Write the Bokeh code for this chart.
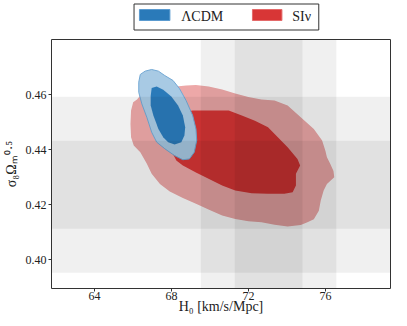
from bokeh.plotting import figure
from bokeh.layouts import column
from bokeh.models import BoxAnnotation, FixedTicker, PrintfTickFormatter, Range1d
from bokeh.core.properties import value
from bokeh.embed import file_html
from bokeh.resources import INLINE

# ---- data ----
x_ticks = [64, 68, 72, 76]
y_ticks = [0.40, 0.42, 0.44, 0.46]
legend_labels = ["ΛCDM", "SIν"]

# external priors (bands)
h0_mean, h0_sigma = 73.04, 1.76
s8_mean, s8_sigma = 0.4272, 0.016

# LCDM 95% contour
lcdm_95_h0 = [66.38, 66.63, 66.97, 67.32, 67.65, 68.08, 68.42, 68.76, 69.10, 69.27, 69.31,
              69.18, 68.93, 68.59, 68.16, 67.65, 67.23, 66.97, 66.72, 66.46, 66.30, 66.30]
lcdm_95_s8 = [0.4673, 0.4685, 0.4691, 0.4685, 0.4669, 0.4651, 0.4621, 0.4578, 0.4524, 0.4475, 0.4433,
              0.4390, 0.4366, 0.4363, 0.4378, 0.4403, 0.4427, 0.4463, 0.4517, 0.4566, 0.4608, 0.4645]
# LCDM 68% contour
lcdm_68_h0 = [66.92, 66.97, 67.23, 67.57, 67.99, 68.34, 68.59, 68.71, 68.67, 68.51, 68.16,
              67.83, 67.57, 67.32, 67.06, 66.92]
lcdm_68_s8 = [0.4596, 0.4624, 0.4629, 0.4617, 0.4593, 0.4560, 0.4524, 0.4481, 0.4451, 0.4427, 0.4418,
              0.4427, 0.4445, 0.4475, 0.4524, 0.4560]
# SInu 95% contour
sinu_95_h0 = [66.46, 67.23, 67.99, 68.76, 69.27, 69.93, 70.63, 71.31, 71.99, 72.67, 73.35, 74.03,
              74.71, 75.39, 75.82, 75.99, 76.07, 76.24, 76.41, 76.45, 76.07, 75.90, 75.75, 75.65,
              75.39, 75.03, 74.71, 74.03, 73.35, 72.67, 71.99, 71.31, 70.63, 69.95, 69.27, 68.59,
              67.91, 67.40, 66.97, 66.72, 66.38, 66.04, 65.90, 65.87, 65.90, 66.01, 66.21]
sinu_95_s8 = [0.4604, 0.4618, 0.4627, 0.4633, 0.4635, 0.4629, 0.4618, 0.4604, 0.4591, 0.4582, 0.4578, 0.4560,
              0.4517, 0.4475, 0.4433, 0.4396, 0.4372, 0.4348, 0.4322, 0.4299, 0.4275, 0.4251, 0.4215, 0.4178,
              0.4147, 0.4135, 0.4126, 0.4120, 0.4127, 0.4136, 0.4139, 0.4148, 0.4160, 0.4181, 0.4203, 0.4224,
              0.4248, 0.4275, 0.4312, 0.4348, 0.4390, 0.4415, 0.4445, 0.4493, 0.4542, 0.4572, 0.4582]
# SInu 68% contour
sinu_68_h0 = [69.10, 70.12, 70.97, 71.65, 72.33, 73.01, 73.52, 74.03, 74.54, 74.68, 74.46, 74.46,
              74.29, 73.86, 73.01, 72.16, 71.31, 70.63, 69.95, 69.27, 68.59, 68.25, 67.99, 67.99, 68.51]
sinu_68_s8 = [0.4542, 0.4542, 0.4542, 0.4524, 0.4505, 0.4481, 0.4445, 0.4408, 0.4366, 0.4342, 0.4312, 0.4269,
              0.4245, 0.4239, 0.4239, 0.4241, 0.4251, 0.4269, 0.4293, 0.4317, 0.4342, 0.4360, 0.4396, 0.4487, 0.4535]

FONT = "Liberation Serif"
BLUE_IN, BLUE_OUT = "#2a7ab9", "#a8cae4"
RED_IN, RED_OUT = "#d83636", "#eda8a8"

# ---------------- main plot ----------------
p = figure(width=391, height=277,
           x_range=Range1d(61.77, 79.37), y_range=Range1d(0.3895, 0.48),
           output_backend="svg", toolbar_location=None,
           min_border_left=45, min_border_top=0, min_border_right=1, min_border_bottom=0)

p.xgrid.visible = False
p.ygrid.visible = False
p.outline_line_color = "#333333"
p.outline_line_width = 1
p.background_fill_color = "white"
p.border_fill_color = "white"

p.patch(sinu_95_h0, sinu_95_s8, fill_color=RED_OUT, fill_alpha=1.0, line_color=None)
p.patch(sinu_68_h0, sinu_68_s8, fill_color=RED_IN, fill_alpha=1.0, line_color=None)
p.patch(lcdm_95_h0, lcdm_95_s8, fill_color=BLUE_OUT, fill_alpha=1.0, line_color="#72a8d4", line_width=1)
p.patch(lcdm_68_h0, lcdm_68_s8, fill_color=BLUE_IN, fill_alpha=1.0, line_color=None)

# bands (drawn on top, translucent)
for k in (2, 1):
    p.add_layout(BoxAnnotation(left=h0_mean - k * h0_sigma, right=h0_mean + k * h0_sigma,
                               fill_color="black", fill_alpha=0.058, line_color=None))
    p.add_layout(BoxAnnotation(bottom=s8_mean - k * s8_sigma, top=s8_mean + k * s8_sigma,
                               fill_color="black", fill_alpha=0.058, line_color=None))

for ax in (p.xaxis[0], p.yaxis[0]):
    ax.axis_line_color = None
    ax.major_tick_line_color = "#333333"
    ax.major_tick_out = 3
    ax.major_tick_in = 0
    ax.minor_tick_line_color = None
    ax.major_label_text_font = FONT
    ax.major_label_text_font_size = "12px"
    ax.major_label_text_color = "#222222"
    ax.axis_label_text_font = FONT
    ax.axis_label_text_font_size = "14px"
    ax.axis_label_text_font_style = "normal"
    ax.axis_label_text_color = "#222222"

p.xaxis.ticker = FixedTicker(ticks=x_ticks)
p.yaxis.ticker = FixedTicker(ticks=y_ticks)
p.yaxis.formatter = PrintfTickFormatter(format="%.2f")
p.xaxis.axis_label = "H₀ [km/s/Mpc]"
p.yaxis.axis_label = "σ₈Ωₘ⁰·⁵"
p.xaxis.major_label_standoff = 0
p.xaxis.axis_label_standoff = -4
p.yaxis.major_label_standoff = 2
p.yaxis.axis_label_standoff = 4

# ---------------- legend strip ----------------
# the column aligns this strip's frame with the main frame (page x 53..398),
# so the strip's x range is expressed in page pixels
top = figure(width=391, height=39, x_range=Range1d(53, 398), y_range=Range1d(39, 0),
             x_axis_type=None, y_axis_type=None, output_backend="svg", toolbar_location=None,
             min_border_left=0, min_border_right=0, min_border_top=0, min_border_bottom=0)
top.outline_line_color = None
top.xgrid.visible = False
top.ygrid.visible = False
top.background_fill_color = "white"
top.border_fill_color = "white"

top.quad(left=137, right=325, top=3.5, bottom=29.5, fill_color="white",
         line_color="#333333", line_width=1)
top.quad(left=142.5, right=173.5, top=9, bottom=20,
         fill_color=BLUE_IN, line_color="#5b9bd0", line_width=1)
top.quad(left=257.5, right=287.5, top=9, bottom=20,
         fill_color=RED_IN, line_color="#e46a6a", line_width=1)
top.text(x=[185, 298], y=[15.5, 15.5], text=legend_labels, text_font=value(FONT),
         text_font_size="14px", text_baseline="middle", text_align="left", text_color="#222222")

layout = column(top, p, spacing=0)
open("out.html", "w").write(file_html(layout, INLINE))
